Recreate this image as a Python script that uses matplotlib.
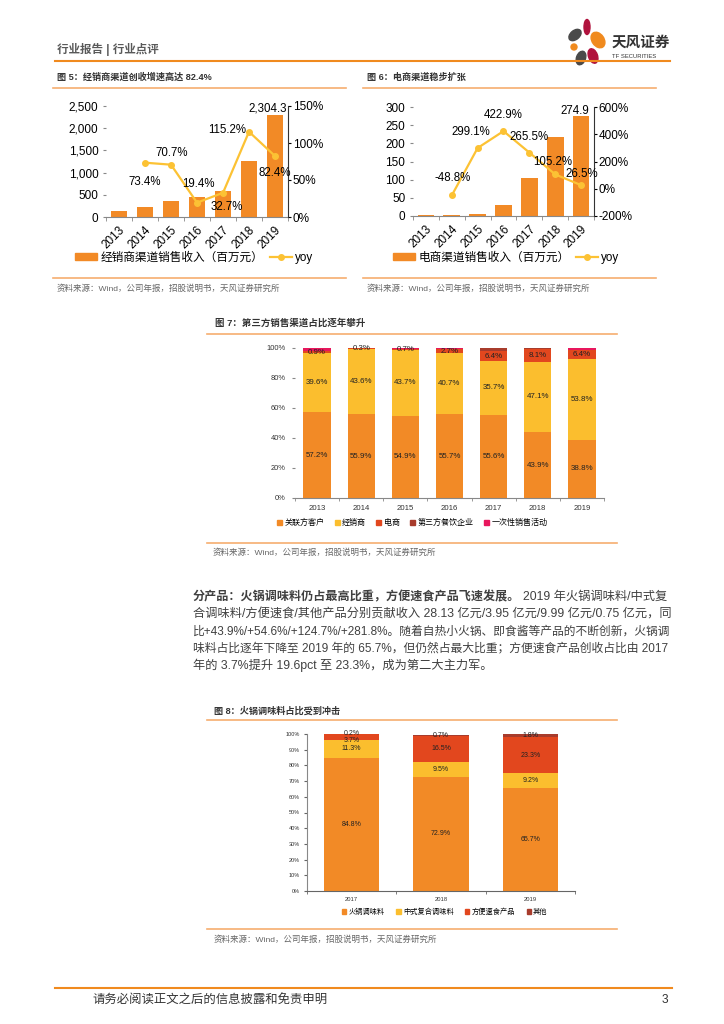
import numpy as np
import matplotlib.pyplot as plt
from matplotlib.patches import Patch, Ellipse
from matplotlib.lines import Line2D
from matplotlib.ticker import FuncFormatter

plt.rcParams['font.family'] = ['Liberation Sans', 'Noto Sans CJK SC']

W, H = 724, 1024

# =========================
# data
# =========================
years = ['2013', '2014', '2015', '2016', '2017', '2018', '2019']

# 图5 经销商渠道
dist_rev = [125, 217, 370, 442, 587, 1263, 2304.3]
dist_yoy = [np.nan, 73.4, 70.7, 19.4, 32.7, 115.2, 82.4]

# 图6 电商渠道
ecom_rev = [2.7, 1.4, 5.5, 29.0, 105.9, 217.3, 274.9]
ecom_yoy = [np.nan, -48.8, 299.1, 422.9, 265.5, 105.2, 26.5]

# 图7 渠道占比 (%)
ch_related = [57.2, 55.9, 54.9, 55.7, 55.6, 43.9, 38.8]
ch_dealer = [39.6, 43.6, 43.7, 40.7, 35.7, 47.1, 53.8]
ch_ecom = [0.9, 0.3, 0.7, 2.7, 6.4, 8.1, 6.4]
ch_catering = [0.0, 0.0, 0.0, 0.0, 2.3, 0.9, 0.0]
ch_oneoff = [2.3, 0.2, 0.7, 0.9, 0.0, 0.0, 1.0]
ch_names = ['关联方客户', '经销商', '电商', '第三方餐饮企业', '一次性销售活动']

# 图8 产品占比 (%)
prod_years = ['2017', '2018', '2019']
prod_hotpot = [84.8, 72.9, 65.7]
prod_compound = [11.3, 9.5, 9.2]
prod_instant = [3.7, 16.5, 23.3]
prod_other = [0.2, 0.7, 1.8]
prod_names = ['火锅调味料', '中式复合调味料', '方便速食产品', '其他']

ORANGE = '#F28A26'
YELLOW = '#FBBE2E'
RED = '#E2471E'
DARKRED = '#A83C2C'
PINK = '#E8175D'
LINE_YEL = '#FCC234'
RULE = '#F6AE70'
TXT = '#404040'

fig = plt.figure(figsize=(W / 100, H / 100), dpi=100)


def px_axes(x0, y0, x1, y1, **kw):
    return fig.add_axes([x0 / W, 1 - y1 / H, (x1 - x0) / W, (y1 - y0) / H], **kw)


def ftext(x, y, s, **kw):
    kw.setdefault('va', 'center')
    return fig.text(x / W, 1 - y / H, s, **kw)


def hline(x0, x1, y, color=RULE, lw=1.2):
    fig.add_artist(Line2D([x0 / W, x1 / W], [1 - y / H, 1 - y / H], color=color, lw=lw))


# =========================
# header / footer
# =========================
ftext(57, 50, '行业报告 | 行业点评', fontsize=8.3, color='#595959', fontweight='bold')
hline(55, 670, 61, color='#F08A1E', lw=1.5)

logo = px_axes(562, 18, 610, 68)
logo.set_xlim(0, 48)
logo.set_ylim(50, 0)
logo.axis('off')
for (cx, cy, w, h, ang, c) in [
    (13, 17, 9, 14, 50, '#4A4A4A'),
    (25, 9, 6, 15, 0, '#B0123D'),
    (36, 22, 12, 17, -35, '#F08A1E'),
    (12, 29, 6, 6, 0, '#F08A1E'),
    (19, 40, 9, 14, 20, '#4A4A4A'),
    (31, 38, 9, 15, -20, '#B0123D'),
]:
    logo.add_patch(Ellipse((cx, cy), w, h, angle=ang, color=c))
ftext(612, 43, '天风证券', fontsize=10.5, fontweight='bold', color='#333333')
ftext(612, 56, 'TF SECURITIES', fontsize=4.2, color='#333333')

hline(55, 672, 988, color='#F08A1E', lw=1.5)
ftext(92, 1000, '请务必阅读正文之后的信息披露和免责申明', fontsize=8.9, color='#333333')
ftext(668, 1000, '3', fontsize=8.6, color='#333333', ha='right')

SRC = '资料来源：Wind，公司年报，招股说明书，天风证券研究所'


# =========================
# 图5 / 图6: bars + yoy line
# =========================
def bar_line_chart(box, title, tx, rule, rev, yoy, ylim, yticks, ylim2, yticks2,
                   fmt, rev_label, bar_off, yoy_offs, leg_x, leg_label):
    ax = px_axes(*box)
    x = np.arange(len(years))
    ax.bar(x, rev, width=0.65, color=ORANGE, zorder=2)
    ax.set_xlim(-0.5, len(years) - 0.5)
    ax.set_ylim(*ylim)
    ax.set_yticks(yticks)
    ax.yaxis.set_major_formatter(FuncFormatter(fmt))
    ax.set_xticks(x)
    ax.set_xticklabels(years, rotation=45, ha='right', rotation_mode='anchor')
    ax.set_xticks(np.arange(-0.5, len(years)), minor=True)
    ax.tick_params(axis='x', which='major', length=0, labelsize=8.5, pad=5)
    ax.tick_params(axis='x', which='minor', length=3, color='#888888')
    ax.tick_params(axis='y', length=2.5, labelsize=8.5, color='#888888', pad=3)
    for s in ['top', 'left', 'right']:
        ax.spines[s].set_visible(False)
    ax.spines['bottom'].set_color('#888888')

    ax2 = ax.twinx()
    ax2.plot(x, yoy, color=LINE_YEL, lw=1.6, marker='o', ms=4, zorder=3)
    ax2.set_ylim(*ylim2)
    ax2.set_yticks(yticks2)
    ax2.yaxis.set_major_formatter(FuncFormatter(lambda v, p: f'{v:.0f}%'))
    ax2.tick_params(axis='y', length=2.5, labelsize=8.5, pad=1)
    for s in ['top', 'left', 'bottom']:
        ax2.spines[s].set_visible(False)
    ax2.spines['right'].set_color('#333333')

    ax.annotate(rev_label, (x[-1], rev[-1]), xytext=bar_off, textcoords='offset pixels',
                ha='center', va='center', fontsize=8.3)
    for i, off in yoy_offs.items():
        ax2.annotate(f'{yoy[i]:.1f}%', (x[i], yoy[i]), xytext=off, textcoords='offset pixels',
                     ha='center', va='center', fontsize=8.3)

    ax.legend([Patch(color=ORANGE),
               Line2D([], [], color=LINE_YEL, lw=1.6, marker='o', ms=4)],
              [leg_label, 'yoy'],
              loc='center left', bbox_to_anchor=(leg_x / W, 1 - 258 / H),
              bbox_transform=fig.transFigure, ncol=2, frameon=False, fontsize=8.4,
              handlelength=1.9, handleheight=0.55, handletextpad=0.25, columnspacing=0.6,
              borderaxespad=0, borderpad=0)

    ftext(tx, 77, title, fontsize=6.6, fontweight='bold', color='#333333')
    hline(rule[0], rule[1], 88)
    hline(rule[0], rule[1], 278)
    ftext(tx, 289, SRC, fontsize=6.1, color='#666666')


bar_line_chart((106, 106, 288, 217), '图 5：经销商渠道创收增速高达 82.4%', 57, (53, 346),
               dist_rev, dist_yoy, (0, 2500), np.arange(0, 2501, 500), (0, 150), [0, 50, 100, 150],
               lambda v, p: f'{v:,.0f}', '2,304.3', (-7, 6),
               {1: (0, -19), 2: (1, 12), 3: (1, 19), 4: (4, -14), 5: (-22, 2), 6: (0, -17)}, 75,
               '经销商渠道销售收入（百万元）')

bar_line_chart((413, 107, 594, 216), '图 6：电商渠道稳步扩张', 367, (363, 656),
               ecom_rev, ecom_yoy, (0, 300), np.arange(0, 301, 50), (-200, 600), [-200, 0, 200, 400, 600],
               lambda v, p: f'{v:.0f}', '274.9', (-6, 5),
               {1: (1, 17), 2: (-7, 16), 3: (0, 16), 4: (0, 16), 5: (-3, 12), 6: (1, 11)}, 393,
               '电商渠道销售收入（百万元）')


# =========================
# 图7 渠道占比
# =========================
ax7 = px_axes(295, 348, 604, 498)
x7 = np.arange(len(years))
series7 = [ch_related, ch_dealer, ch_ecom, ch_catering, ch_oneoff]
colors7 = [ORANGE, YELLOW, RED, DARKRED, PINK]
bottom = np.zeros(len(years))
for k, (vals, c) in enumerate(zip(series7, colors7)):
    vals = np.array(vals)
    ax7.bar(x7, vals, bottom=bottom, width=0.62, color=c, zorder=2)
    if k < 3:
        for i in range(len(years)):
            ax7.text(x7[i], bottom[i] + vals[i] / 2, f'{vals[i]:.1f}%', ha='center', va='center',
                     fontsize=5.7, color='#222222', zorder=3)
    bottom += vals
ax7.set_xlim(-0.5, len(years) - 0.5)
ax7.set_ylim(0, 100)
ax7.set_yticks(np.arange(0, 101, 20))
ax7.yaxis.set_major_formatter(FuncFormatter(lambda v, p: f'{v:.0f}%'))
ax7.set_xticks(x7)
ax7.set_xticklabels(years)
ax7.set_xticks(np.arange(-0.5, len(years)), minor=True)
ax7.tick_params(axis='x', which='major', length=0, labelsize=5.6, pad=5, labelcolor='#333333')
ax7.tick_params(axis='x', which='minor', length=2.5, color='#888888')
ax7.tick_params(axis='y', length=2.5, labelsize=5.4, pad=4, color='#888888', labelcolor='#333333')
for s in ['top', 'left', 'right']:
    ax7.spines[s].set_visible(False)
ax7.spines['bottom'].set_color('#888888')
ax7.legend([Patch(color=c) for c in colors7], ch_names, loc='center left',
           bbox_to_anchor=(277 / W, 1 - 523 / H), bbox_transform=fig.transFigure,
           ncol=5, frameon=False, fontsize=5.8, handlelength=0.6, handleheight=0.6,
           handletextpad=0.3, columnspacing=1.3, borderaxespad=0, borderpad=0)

ftext(215, 323, '图 7：第三方销售渠道占比逐年攀升', fontsize=6.8, fontweight='bold', color='#333333')
hline(207, 617, 334)
hline(207, 617, 543)
ftext(213, 553, SRC, fontsize=6.1, color='#666666')


# =========================
# 正文 (lines stretched to the column width)
# =========================
para_x, para_r = 193, 667
fig.canvas.draw()
renderer = fig.canvas.get_renderer()


def fit_text(x, y, s, right, size=8.6, **kw):
    t = ftext(x, y, s, fontsize=size, **kw)
    w = t.get_window_extent(renderer).width
    t.set_fontsize(size * (right - x) / w)
    return t


fit_text(para_x, 597, '分产品：火锅调味料仍占最高比重，方便速食产品飞速发展。', 517,
         fontweight='bold', color=TXT)
fit_text(523, 597, '2019 年火锅调味料/中式复', para_r, color=TXT)
para_lines = [
    '合调味料/方便速食/其他产品分别贡献收入 28.13 亿元/3.95 亿元/9.99 亿元/0.75 亿元，同',
    '比+43.9%/+54.6%/+124.7%/+281.8%。随着自热小火锅、即食酱等产品的不断创新，火锅调',
    '味料占比逐年下降至 2019 年的 65.7%，但仍然占最大比重；方便速食产品创收占比由 2017',
]
for j, line in enumerate(para_lines):
    fit_text(para_x, 615 + j * 16.8, line, para_r, color=TXT)
ftext(para_x, 615 + 3 * 16.8, '年的 3.7%提升 19.6pct 至 23.3%，成为第二大主力军。',
      fontsize=8.8, color=TXT)


# =========================
# 图8 产品占比
# =========================
ax8 = px_axes(307, 734, 575, 891)
x8 = np.arange(len(prod_years))
series8 = [prod_hotpot, prod_compound, prod_instant, prod_other]
colors8 = [ORANGE, YELLOW, RED, DARKRED]
# small nudges (pixels) for the crowded labels at the top of 2017
nudge8 = {(2, 0): -3, (3, 0): 1}
bottom = np.zeros(len(prod_years))
for k, (vals, c) in enumerate(zip(series8, colors8)):
    vals = np.array(vals)
    ax8.bar(x8, vals, bottom=bottom, width=0.62, color=c, zorder=2)
    for i in range(len(prod_years)):
        ax8.annotate(f'{vals[i]:.1f}%', (x8[i], bottom[i] + vals[i] / 2),
                     xytext=(0, nudge8.get((k, i), 0)), textcoords='offset pixels',
                     ha='center', va='center', fontsize=5.0, color='#222222', zorder=3)
    bottom += vals
ax8.set_xlim(-0.5, len(prod_years) - 0.5)
ax8.set_ylim(0, 100)
ax8.set_yticks(np.arange(0, 101, 10))
ax8.yaxis.set_major_formatter(FuncFormatter(lambda v, p: f'{v:.0f}%'))
ax8.set_xticks(x8)
ax8.set_xticklabels(prod_years)
ax8.set_xticks(np.arange(-0.5, len(prod_years)), minor=True)
ax8.tick_params(axis='x', which='major', length=0, labelsize=4.2, pad=4, labelcolor='#333333')
ax8.tick_params(axis='x', which='minor', length=2.5, color='#666666')
ax8.tick_params(axis='y', length=2, labelsize=4.0, pad=3, color='#666666', labelcolor='#333333')
for s in ['top', 'right']:
    ax8.spines[s].set_visible(False)
ax8.spines['left'].set_color('#888888')
ax8.spines['bottom'].set_color('#666666')
ax8.legend([Patch(color=c) for c in colors8], prod_names, loc='center left',
           bbox_to_anchor=(342 / W, 1 - 912 / H), bbox_transform=fig.transFigure,
           ncol=4, frameon=False, fontsize=5.2, handlelength=0.6, handleheight=0.6,
           handletextpad=0.3, columnspacing=1.6, borderaxespad=0, borderpad=0)

ftext(214, 711, '图 8：火锅调味料占比受到冲击', fontsize=6.6, fontweight='bold', color='#333333')
hline(207, 617, 720)
hline(207, 617, 929)
ftext(214, 940, SRC, fontsize=6.1, color='#666666')

fig.savefig('out.png', dpi=100, facecolor='white')
